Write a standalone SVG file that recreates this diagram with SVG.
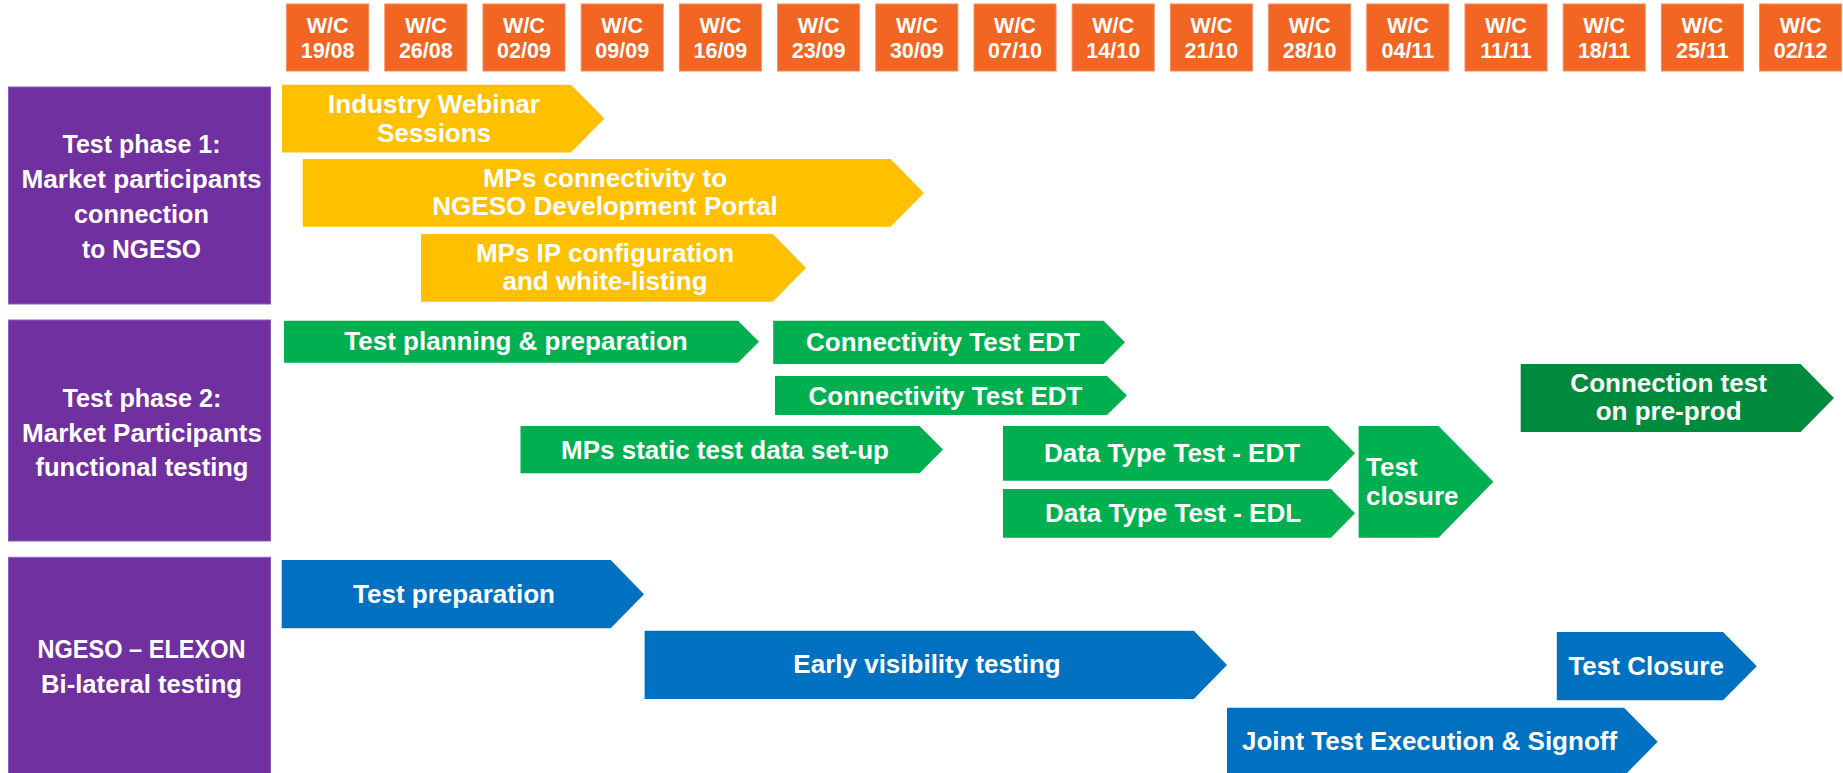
<svg xmlns="http://www.w3.org/2000/svg" width="1843" height="773" viewBox="0 0 1843 773">
<style>
text{font-family:"Liberation Sans",Arial,sans-serif;font-weight:bold;fill:#fff}
.wk{fill:#F26522;stroke:#F58A5A;stroke-width:1}
.wt{font-size:21.5px;text-anchor:middle}
.ph{fill:#7030A0;stroke:#8E5CC0;stroke-width:1}
.pt{font-size:26px;text-anchor:middle}
.y{fill:#FFC000}
.g{fill:#00B050}
.dg{fill:#008A3E}
.b{fill:#0070C0}
.bt{font-size:26px}
.c{text-anchor:middle}
</style>
<rect width="1843" height="773" fill="#fff"/>
<g id="weeks">
<g id="wk1"><rect class="wk" x="286.6" y="4" width="82" height="67"/><text class="wt" x="327.6" y="33">W/C</text><text class="wt" x="327.6" y="58">19/08</text></g>
<g id="wk2"><rect class="wk" x="384.8" y="4" width="82" height="67"/><text class="wt" x="425.8" y="33">W/C</text><text class="wt" x="425.8" y="58">26/08</text></g>
<g id="wk3"><rect class="wk" x="483" y="4" width="82" height="67"/><text class="wt" x="524" y="33">W/C</text><text class="wt" x="524" y="58">02/09</text></g>
<g id="wk4"><rect class="wk" x="581.2" y="4" width="82" height="67"/><text class="wt" x="622.2" y="33">W/C</text><text class="wt" x="622.2" y="58">09/09</text></g>
<g id="wk5"><rect class="wk" x="679.4" y="4" width="82" height="67"/><text class="wt" x="720.4" y="33">W/C</text><text class="wt" x="720.4" y="58">16/09</text></g>
<g id="wk6"><rect class="wk" x="777.6" y="4" width="82" height="67"/><text class="wt" x="818.6" y="33">W/C</text><text class="wt" x="818.6" y="58">23/09</text></g>
<g id="wk7"><rect class="wk" x="875.8" y="4" width="82" height="67"/><text class="wt" x="916.8" y="33">W/C</text><text class="wt" x="916.8" y="58">30/09</text></g>
<g id="wk8"><rect class="wk" x="974" y="4" width="82" height="67"/><text class="wt" x="1015" y="33">W/C</text><text class="wt" x="1015" y="58">07/10</text></g>
<g id="wk9"><rect class="wk" x="1072.2" y="4" width="82" height="67"/><text class="wt" x="1113.2" y="33">W/C</text><text class="wt" x="1113.2" y="58">14/10</text></g>
<g id="wk10"><rect class="wk" x="1170.4" y="4" width="82" height="67"/><text class="wt" x="1211.4" y="33">W/C</text><text class="wt" x="1211.4" y="58">21/10</text></g>
<g id="wk11"><rect class="wk" x="1268.6" y="4" width="82" height="67"/><text class="wt" x="1309.6" y="33">W/C</text><text class="wt" x="1309.6" y="58">28/10</text></g>
<g id="wk12"><rect class="wk" x="1366.8" y="4" width="82" height="67"/><text class="wt" x="1407.8" y="33">W/C</text><text class="wt" x="1407.8" y="58">04/11</text></g>
<g id="wk13"><rect class="wk" x="1465" y="4" width="82" height="67"/><text class="wt" x="1506" y="33">W/C</text><text class="wt" x="1506" y="58">11/11</text></g>
<g id="wk14"><rect class="wk" x="1563.2" y="4" width="82" height="67"/><text class="wt" x="1604.2" y="33">W/C</text><text class="wt" x="1604.2" y="58">18/11</text></g>
<g id="wk15"><rect class="wk" x="1661.4" y="4" width="82" height="67"/><text class="wt" x="1702.4" y="33">W/C</text><text class="wt" x="1702.4" y="58">25/11</text></g>
<g id="wk16"><rect class="wk" x="1759.6" y="4" width="82" height="67"/><text class="wt" x="1800.6" y="33">W/C</text><text class="wt" x="1800.6" y="58">02/12</text></g>
</g>
<g id="phase1"><rect class="ph" x="8.5" y="87" width="262" height="217"/>
<text class="pt" x="141.5" y="152.7" textLength="158" lengthAdjust="spacingAndGlyphs">Test phase 1:</text><text class="pt" x="141.5" y="187.7" textLength="240" lengthAdjust="spacingAndGlyphs">Market participants</text><text class="pt" x="141.5" y="222.5" textLength="135" lengthAdjust="spacingAndGlyphs">connection</text><text class="pt" x="141.5" y="257.5" textLength="119" lengthAdjust="spacingAndGlyphs">to NGESO</text></g>
<g id="phase2"><rect class="ph" x="8.5" y="320" width="262" height="221"/>
<text class="pt" x="142" y="407.3" textLength="159" lengthAdjust="spacingAndGlyphs">Test phase 2:</text><text class="pt" x="142" y="441.7" textLength="240" lengthAdjust="spacingAndGlyphs">Market Participants</text><text class="pt" x="142" y="475.7" textLength="213" lengthAdjust="spacingAndGlyphs">functional testing</text></g>
<g id="phase3"><rect class="ph" x="8.5" y="557.3" width="262" height="230"/>
<text class="pt" x="141.5" y="658.3" textLength="208" lengthAdjust="spacingAndGlyphs">NGESO – ELEXON</text><text class="pt" x="141.5" y="693.3" textLength="201" lengthAdjust="spacingAndGlyphs">Bi-lateral testing</text></g>

<g id="webinar"><polygon class="y" points="282,84.7 571,84.7 604.5,118.6 571,152.5 282,152.5"/>
<text class="bt c" x="434" y="113.3">Industry Webinar</text><text class="bt c" x="434" y="141.7">Sessions</text></g>
<g id="mps-connectivity"><polygon class="y" points="302.7,159 890.6,159 924,192.9 890.6,226.7 302.7,226.7"/>
<text class="bt c" x="605" y="186.7">MPs connectivity to</text><text class="bt c" x="605" y="215">NGESO Development Portal</text></g>
<g id="mps-ip"><polygon class="y" points="421,234 772.8,234 806,267.9 772.8,301.7 421,301.7"/>
<text class="bt c" x="605" y="262.3">MPs IP configuration</text><text class="bt c" x="605" y="290">and white-listing</text></g>

<g id="test-planning"><polygon class="g" points="284,320.7 738,320.7 759,341.7 738,362.7 284,362.7"/>
<text class="bt c" x="516" y="350">Test planning &amp; preparation</text></g>
<g id="conn-edt-1"><polygon class="g" points="773.2,320.7 1103.6,320.7 1125,342.3 1103.6,364 773.2,364"/>
<text class="bt c" x="943" y="350.7">Connectivity Test EDT</text></g>
<g id="conn-edt-2"><polygon class="g" points="775,376 1107,376 1127,395.5 1107,415 775,415"/>
<text class="bt c" x="945.5" y="405">Connectivity Test EDT</text></g>
<g id="mps-static"><polygon class="g" points="520.5,426 919.6,426 943,449.6 919.6,473.3 520.5,473.3"/>
<text class="bt c" x="725" y="459">MPs static test data set-up</text></g>
<g id="dtt-edt"><polygon class="g" points="1003,426 1328,426 1355,453.3 1328,480.7 1003,480.7"/>
<text class="bt c" x="1172" y="461.7">Data Type Test - EDT</text></g>
<g id="dtt-edl"><polygon class="g" points="1003,489 1331,489 1355,513.3 1331,537.7 1003,537.7"/>
<text class="bt c" x="1173" y="521.7">Data Type Test - EDL</text></g>
<g id="test-closure-2"><polygon class="g" points="1358.6,426 1438.5,426 1493.4,481.8 1438.5,537.7 1358.6,537.7"/>
<text class="bt" x="1366" y="476">Test</text><text class="bt" x="1366" y="505">closure</text></g>
<g id="connection-preprod"><polygon class="dg" points="1520.7,364 1800.6,364 1834,398 1800.6,432 1520.7,432"/>
<text class="bt c" x="1668.6" y="391.7">Connection test</text><text class="bt c" x="1668.6" y="420">on pre-prod</text></g>

<g id="test-preparation"><polygon class="b" points="281.7,560 610.7,560 644,594.2 610.7,628.3 281.7,628.3"/>
<text class="bt c" x="454" y="602.7">Test preparation</text></g>
<g id="early-visibility"><polygon class="b" points="644.6,630.7 1193.8,630.7 1227,664.9 1193.8,699 644.6,699"/>
<text class="bt c" x="927" y="673.3">Early visibility testing</text></g>
<g id="test-closure-3"><polygon class="b" points="1556.8,632 1723,632 1756.8,666.2 1723,700.3 1556.8,700.3"/>
<text class="bt" x="1568.4" y="675">Test Closure</text></g>
<g id="joint-test"><polygon class="b" points="1227,707.7 1624,707.7 1657.7,741.8 1624,776 1227,776"/>
<text class="bt" x="1242" y="750">Joint Test Execution &amp; Signoff</text></g>
</svg>
